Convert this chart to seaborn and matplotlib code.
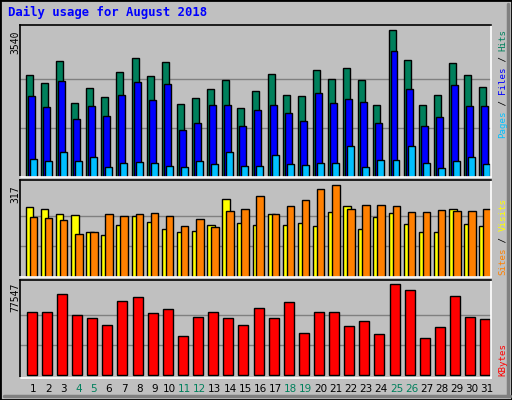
import matplotlib
matplotlib.use("Agg")
import matplotlib.pyplot as plt
import seaborn as sns
import pandas as pd
import numpy as np

days = list(range(1, 32))
hits = [2456,2264,2793,1782,2143,1926,2529,2866,2432,2770,1758,1902,2119,2336,1662,2071,
        2480,1975,1951,2577,2360,2625,2336,1734,3540,2818,1734,1975,2745,2456,2167]
files = [1951,1686,2312,1397,1710,1469,1975,2288,1854,2240,1132,1300,1734,1734,1228,1613,
         1734,1541,1349,2023,1782,1878,1806,1300,3034,2119,1228,1445,2216,1710,1710]
pages = [434,385,602,385,482,241,337,361,337,265,241,385,313,602,265,265,
         530,313,289,337,337,746,241,409,409,746,337,217,385,482,313]
sites = [240,233,216,213,154,144,179,209,189,165,154,158,179,268,185,179,
         216,179,185,175,223,244,165,206,220,182,154,154,233,182,175]
visits = [206,203,196,148,154,216,209,216,220,209,175,199,172,227,233,278,
          216,244,264,302,317,233,247,247,244,223,223,230,227,227,233]
kbytes = [53599,53599,68994,51033,48467,42480,63007,66428,52744,56165,33072,49322,53599,48467,42480,57020,
          48467,62152,35638,53599,53599,41625,45901,34782,77547,72415,31361,40769,67283,49322,47612]
weekend = [4,5,11,12,18,19,25,26]
title = "Daily usage for August 2018"

sns.set_style("white")
GRAY = "#C0C0C0"
fig = plt.figure(figsize=(5.12, 4.0), dpi=100, facecolor=GRAY)
W, H = 512, 400
pxd = 15.13
def ax_at(x0, y0, x1, y1):
    ax = fig.add_axes([x0/W, 1-y1/H, (x1-x0)/W, (y1-y0)/H])
    ax.set_facecolor(GRAY)
    return ax

xmin = 1 - 14/pxd
xmax = 31 + 3.5/pxd

def bars(ax, vals, off, width, color):
    df = pd.DataFrame({"x": [d + off/pxd for d in days], "y": vals})
    sns.barplot(data=df, x="x", y="y", native_scale=True, width=width/pxd,
                color=color, edgecolor="black", linewidth=1, saturation=1, ax=ax)

def style(ax, ymin, ymax, vmax):
    ax.set_xlim(xmin, xmax)
    ax.set_ylim(ymin, ymax)
    for v in (vmax/3, 2*vmax/3):
        ax.axhline(v, color="#808080", lw=1, zorder=0.5)
    ax.set_xlabel(""); ax.set_ylabel("")
    ax.set_xticks([]); ax.set_yticks([])
    ax.spines["top"].set_color("black"); ax.spines["left"].set_color("black")
    ax.spines["bottom"].set_color("white"); ax.spines["right"].set_color("white")
    for s in ax.spines.values():
        s.set_linewidth(1.2)

ax1 = ax_at(20, 25, 491, 177)
bars(ax1, hits, -4.8, 7, "#00805C")
bars(ax1, files, -2.8, 7, "#0000FF")
bars(ax1, pages, -0.8, 7, "#00C0FF")
style(ax1, 0, 3540*152/147, 3540)

ax2 = ax_at(20, 180, 491, 277)
bars(ax2, sites, -4.5, 7.5, "#FFFF00")
bars(ax2, visits, -0.5, 7.5, "#FF8000")
style(ax2, 0, 317*97/92, 317)

ax3 = ax_at(20, 280, 491, 378)
bars(ax3, kbytes, -2.2, 10, "#FF0000")
style(ax3, -77547*3/90.7, 77547*95/90.7, 77547)

for d in days:
    fig.text((34 + (d-1)*pxd - 0.7)/W, 1-389/H, str(d), ha="center", va="center",
             fontsize=7.5, color="#00805C" if d in weekend else "black")

fig.text(8/W, 1-12/H, title, ha="left", va="center", fontsize=8.8, fontweight="bold",
         family="DejaVu Sans Mono", color="#0000FF")

for txt, ytop in (("3540", 30), ("317", 185), ("77547", 283)):
    fig.text(15/W, 1-ytop/H, txt, rotation=90, ha="center", va="top", fontsize=7,
             family="DejaVu Sans Mono", color="black")

def vlabel(parts, ybottom):
    pitch = 5.45
    pos = 0
    for txt, col in parts:
        fig.text(503/W, 1-(ybottom - pos*pitch)/H, txt, rotation=90, rotation_mode="anchor",
                 ha="left", va="center", fontsize=6.6, family="DejaVu Sans Mono", color=col)
        pos += len(txt)

vlabel([("Pages", "#00C0FF"), (" / ", "black"), ("Files", "#0000FF"), (" / ", "black"), ("Hits", "#00805C")], 138)
vlabel([("Sites", "#FF8000"), (" / ", "black"), ("Visits", "#FFFF00")], 275)
vlabel([("KBytes", "#FF0000")], 376)

fig.add_artist(plt.Rectangle((0, 0), 1, 1, transform=fig.transFigure, fill=False, edgecolor="black", lw=2))
fig.add_artist(plt.Line2D([4/W, 1-2/W], [4/H, 4/H], transform=fig.transFigure, color="#808080", lw=2.5))
fig.add_artist(plt.Line2D([1-4/W, 1-4/W], [4/H, 1-4/H], transform=fig.transFigure, color="#808080", lw=2.5))

fig.savefig("out.png", dpi=100, facecolor=GRAY)
